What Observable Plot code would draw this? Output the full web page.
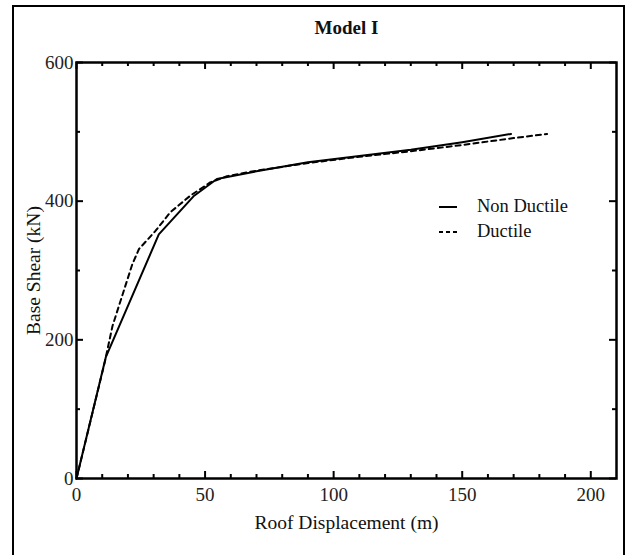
<!DOCTYPE html>
<html>
<head>
<meta charset="utf-8">
<script src="https://cdn.jsdelivr.net/npm/d3@7"></script>
<script src="https://cdn.jsdelivr.net/npm/@observablehq/plot@0.6"></script>
<style>
  html, body { margin: 0; padding: 0; background: #fff; overflow: hidden; }
  #wrap { position: relative; width: 627px; height: 555px; overflow: hidden; font-family: "Liberation Serif", "Times New Roman", serif; }
  #border { position: absolute; left: 12px; top: 5px; width: 609px; height: 600px; border: 2px solid #000; }
  #chart { position: absolute; left: 0; top: 0; }
  #legend { position: absolute; left: 438px; top: 194px; font-size: 18.5px; color: #111; }
  .row { display: flex; align-items: center; height: 25px; }
  .row svg { margin-right: 19px; }
</style>
</head>
<body>
<div id="wrap">
  <div id="border"></div>
  <div id="chart"></div>
  <div id="legend"></div>
</div>
<script>
// Data
const title = "Model I";
const xLabel = "Roof Displacement (m)";
const yLabel = "Base Shear (kN)";
const seriesNames = ["Non Ductile", "Ductile"];

const nonDuctileX = [0, 11.4, 32, 45.5, 54.6, 70, 90, 110, 130, 150, 169];
const nonDuctileY = [0, 175, 352, 407, 432, 443, 456, 465, 474, 485, 497];

const ductileX = [0, 11, 14, 21.7, 24.3, 30.7, 36.5, 44.3, 52, 58.5, 70, 90, 110, 130, 150, 170, 183];
const ductileY = [0, 168, 220, 309, 331, 357, 384, 408, 427, 436, 444, 455, 464, 472, 481, 491, 497];

const xMajorTicks = [0, 50, 100, 150, 200];
const xMinorTicks = [10, 20, 30, 40, 60, 70, 80, 90, 110, 120, 130, 140, 160, 170, 180, 190];
const yMajorTicks = [0, 200, 400, 600];
const yMinorTicks = [100, 300, 500];
const xDomain = [0, 210];
const yDomain = [0, 600];

const nonDuctile = nonDuctileX.map((x, i) => ({x, y: nonDuctileY[i]}));
const ductile = ductileX.map((x, i) => ({x, y: ductileY[i]}));

const W = 627, H = 555;
const mL = 76, mR = 11, mT = 62, mB = 77;
const fw = W - mL - mR, fh = H - mT - mB;
const font = "\"Liberation Serif\", \"Times New Roman\", serif";

const chart = Plot.plot({
  width: W,
  height: H,
  marginLeft: mL, marginRight: mR, marginTop: mT, marginBottom: mB,
  style: { fontFamily: font, fontSize: "19px", color: "#222", background: "transparent", overflow: "visible" },
  x: { domain: xDomain },
  y: { domain: yDomain },
  marks: [
    Plot.axisX({ ticks: xMajorTicks, tickSize: 0, tickPadding: 9, label: null, fontSize: 19 }),
    Plot.axisY({ ticks: yMajorTicks, tickSize: 0, tickPadding: 3, label: null, fontSize: 19 }),
    // inward ticks on all four sides
    Plot.tickX(xMajorTicks, { x: d => d, insetTop: fh - 7, stroke: "#000", strokeWidth: 2 }),
    Plot.tickX(xMinorTicks, { x: d => d, insetTop: fh - 4, stroke: "#000", strokeWidth: 2 }),
    Plot.tickX(xMajorTicks, { x: d => d, insetBottom: fh - 7, stroke: "#000", strokeWidth: 2 }),
    Plot.tickX(xMinorTicks, { x: d => d, insetBottom: fh - 4, stroke: "#000", strokeWidth: 2 }),
    Plot.tickY(yMajorTicks, { y: d => d, insetRight: fw - 7, stroke: "#000", strokeWidth: 2 }),
    Plot.tickY(yMinorTicks, { y: d => d, insetRight: fw - 4, stroke: "#000", strokeWidth: 2 }),
    Plot.tickY(yMajorTicks, { y: d => d, insetLeft: fw - 7, stroke: "#000", strokeWidth: 2 }),
    Plot.tickY(yMinorTicks, { y: d => d, insetLeft: fw - 4, stroke: "#000", strokeWidth: 2 }),
    Plot.line(ductile, { x: "x", y: "y", stroke: "#000", strokeWidth: 2, strokeDasharray: "5,4" }),
    Plot.line(nonDuctile, { x: "x", y: "y", stroke: "#000", strokeWidth: 2 }),
    Plot.frame({ stroke: "#000", strokeWidth: 2.5 }),
    Plot.text([title], { frameAnchor: "top", dy: -35, lineAnchor: "middle", textAnchor: "middle", fontSize: 19, fontWeight: "bold", fill: "#111" }),
    Plot.text([xLabel], { frameAnchor: "bottom", dy: 44, lineAnchor: "middle", textAnchor: "middle", fontSize: 19.5, fill: "#111" }),
    Plot.text([yLabel], { frameAnchor: "left", dx: -43, rotate: -90, lineAnchor: "middle", textAnchor: "middle", fontSize: 19.5, fill: "#111" })
  ]
});
document.getElementById("chart").appendChild(chart);

// Legend
const legend = document.getElementById("legend");
const dashes = [null, "4,3"];
seriesNames.forEach((name, i) => {
  const row = document.createElement("div");
  row.className = "row";
  const ns = "http://www.w3.org/2000/svg";
  const s = document.createElementNS(ns, "svg");
  s.setAttribute("width", 20); s.setAttribute("height", 6);
  const l = document.createElementNS(ns, "line");
  l.setAttribute("x1", 1); l.setAttribute("x2", 19); l.setAttribute("y1", 3); l.setAttribute("y2", 3);
  l.setAttribute("stroke", "#000"); l.setAttribute("stroke-width", 2);
  if (dashes[i]) l.setAttribute("stroke-dasharray", dashes[i]);
  s.appendChild(l);
  row.appendChild(s);
  const t = document.createElement("span");
  t.textContent = name;
  row.appendChild(t);
  legend.appendChild(row);
});
</script>
</body>
</html>
